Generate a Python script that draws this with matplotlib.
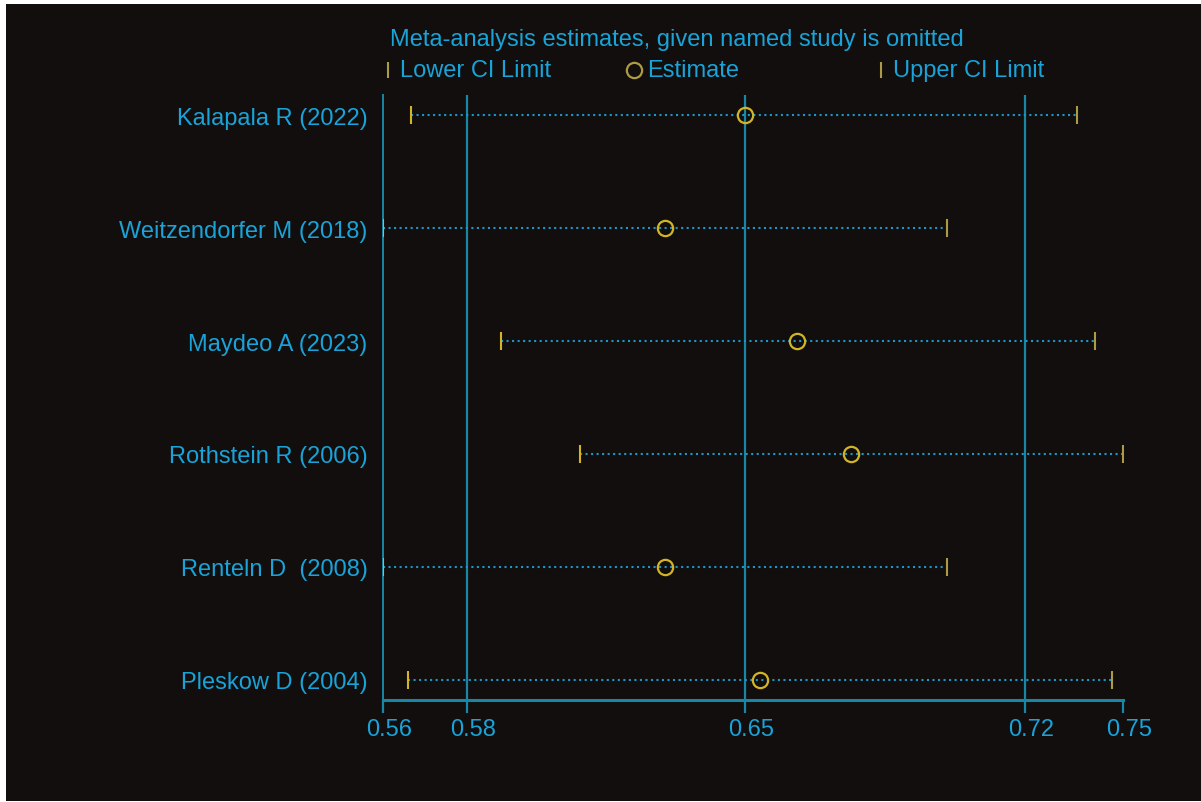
import matplotlib
matplotlib.use("Agg")
import matplotlib.pyplot as plt
from matplotlib.lines import Line2D
from matplotlib.transforms import ScaledTranslation

# ---- data ----
studies = ["Kalapala R (2022)", "Weitzendorfer M (2018)", "Maydeo A (2023)",
           "Rothstein R (2006)", "Renteln D  (2008)", "Pleskow D (2004)"]
lower = [0.5654, 0.5582, 0.5885, 0.6087, 0.5582, 0.5646]
estimate = [0.6510, 0.6305, 0.6644, 0.6782, 0.6305, 0.6549]
upper = [0.7361, 0.7028, 0.7408, 0.7479, 0.7028, 0.7451]
tick_values = [0.5582, 0.5797, 0.6510, 0.7228, 0.7479]
tick_labels = ["0.56", "0.58", "0.65", "0.72", "0.75"]
ref_lines = [0.5797, 0.6510, 0.7228]

BG = "#110e0d"
TXT = "#19a3d8"
LINE = "#1a86a6"
DOT = "#1b98c8"
YEL = "#d2b525"
GOLD = "#ad9a45"
FONT = "Liberation Sans"
FS = 17

W, H = 1201, 803
fig = plt.figure(figsize=(W / 100, H / 100), dpi=100, facecolor="white")
# dark panel (white thin margins)
fig.patches.append(plt.Rectangle((6 / W, 1 / H), 1 - 6 / W, 1 - 6 / H,
                                 transform=fig.transFigure, facecolor=BG,
                                 edgecolor="none", zorder=-10))

ax = fig.add_axes([383 / W, 1 - 701 / H, (1123 - 383) / W, (701 - 96) / H])
ax.set_facecolor("none")

ypos = list(range(1, len(studies) + 1))
for xv in ref_lines:
    ax.axvline(xv, color=LINE, lw=1.6, zorder=1)

for y, lo, est, up in zip(ypos, lower, estimate, upper):
    ax.plot([lo, up], [y, y], color=DOT, lw=1.5, linestyle=(0, (1, 1.65)),
            zorder=2)
ax.plot(lower, ypos, linestyle="none", marker="|", markersize=13,
        markeredgewidth=1.5, color=YEL, zorder=3)
ax.plot(upper, ypos, linestyle="none", marker="|", markersize=13,
        markeredgewidth=1.5, color=GOLD, zorder=3)
ax.plot(estimate, ypos, linestyle="none", marker="o", markersize=11,
        markerfacecolor="none", markeredgecolor=YEL, markeredgewidth=1.6,
        zorder=4)

ax.set_xlim(tick_values[0], tick_values[-1])
ax.set_ylim(len(studies) + 0.177, 1 - 0.177)
ax.set_yticks(ypos)
ax.set_yticklabels(studies)
ax.set_xticks(tick_values)
ax.set_xticklabels(tick_labels)

for s in ["top", "right"]:
    ax.spines[s].set_visible(False)
ax.spines["left"].set_color(LINE)
ax.spines["left"].set_linewidth(1.4)
ax.spines["bottom"].set_color(LINE)
ax.spines["bottom"].set_linewidth(2.2)
ax.spines["bottom"].set_capstyle("projecting")

ax.tick_params(axis="y", length=0, pad=11, colors=TXT, labelsize=FS)
ax.tick_params(axis="x", length=9, width=1.6, color=LINE, pad=4,
               labelcolor=TXT, labelsize=FS)
shift = ScaledTranslation(6 / 100, 0, fig.dpi_scale_trans)
for lab in ax.get_xticklabels():
    lab.set_fontfamily(FONT)
    lab.set_transform(lab.get_transform() + shift)
for lab in ax.get_yticklabels():
    lab.set_fontfamily(FONT)

# title and legend
fig.text(390 / W, 1 - 40 / H, "Meta-analysis estimates, given named study is omitted",
         color=TXT, fontsize=FS, family=FONT, ha="left", va="center")
leg_items = [("|", GOLD, 388, 400, "Lower CI Limit"),
             ("o", GOLD, 634, 647, "Estimate"),
             ("|", GOLD, 881, 893, "Upper CI Limit")]
for mk, col, mx, tx, label in leg_items:
    if mk == "o":
        fig.add_artist(Line2D([mx / W], [1 - 71 / H], transform=fig.transFigure,
                              marker="o", markersize=11, markerfacecolor="none",
                              markeredgecolor=col, markeredgewidth=1.6,
                              linestyle="none"))
    else:
        fig.add_artist(Line2D([mx / W], [1 - 71 / H], transform=fig.transFigure,
                              marker="|", markersize=12, markeredgewidth=1.5,
                              color=col, linestyle="none"))
    fig.text(tx / W, 1 - 71 / H, label, color=TXT, fontsize=FS, family=FONT,
             ha="left", va="center")

fig.savefig("out.png", dpi=100, facecolor="white")
